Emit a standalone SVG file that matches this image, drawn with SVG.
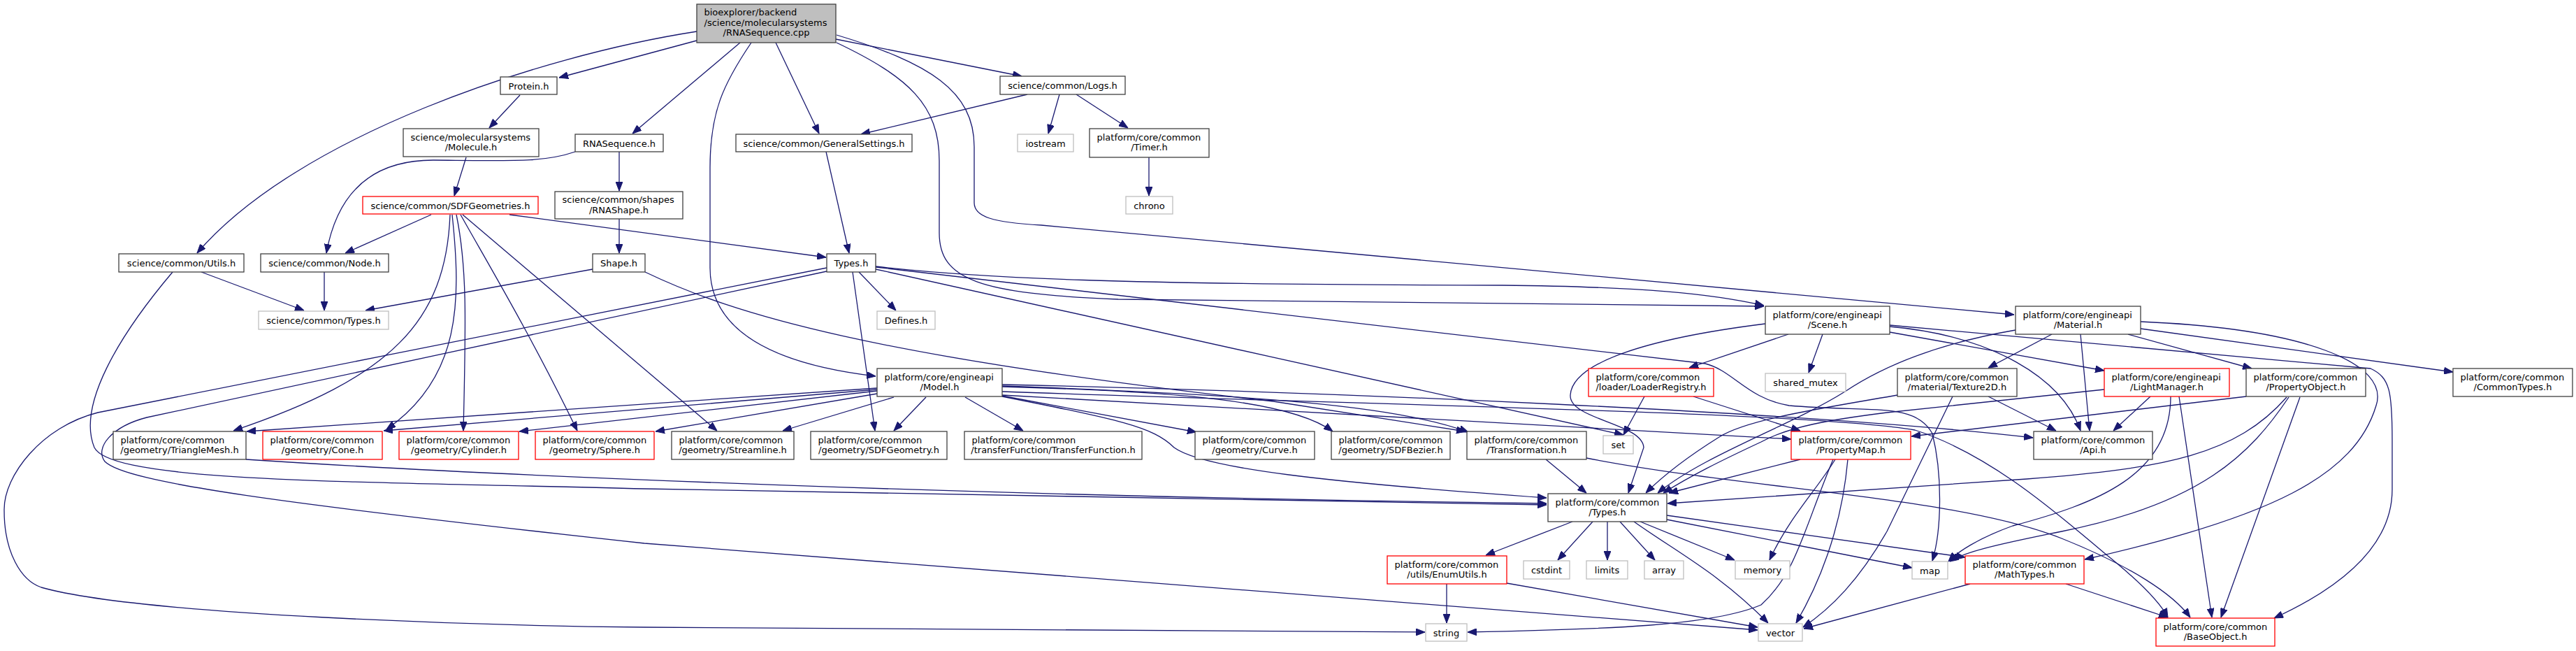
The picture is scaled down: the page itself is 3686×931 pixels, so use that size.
<svg xmlns="http://www.w3.org/2000/svg" width="3686" height="931" viewBox="0 0 3686 931">
<defs>
<marker id="ah" viewBox="0 0 13 10" refX="13" refY="5" markerWidth="13" markerHeight="10" markerUnits="userSpaceOnUse" orient="auto">
<path d="M0,0 L13,5 L0,10 z" fill="#191970" stroke="#191970" stroke-width="1"/>
</marker>
<style>
text{font-family:"DejaVu Sans","Liberation Sans",sans-serif;font-size:13px;fill:#000}
.m{text-anchor:middle}
rect{fill:#fff;stroke:#404040;stroke-width:1.3}
.r rect{stroke:#ff0000}
.g rect{stroke:#bfbfbf}
.root rect{fill:#bfbfbf}
#edges path{fill:none;stroke:#191970;stroke-width:1.3;marker-end:url(#ah)}
</style>
</defs>
<rect x="0" y="0" width="3686" height="931" style="fill:#fff;stroke:none"/>
<g id="edges">
<path d="M997,58 L800,111"/>
<path d="M997,45 C770,80 425,195 282,362"/>
<path d="M1059,61 L905,191"/>
<path d="M1075,61 C1035,120 1016,160 1016,240 L1016,383 C1016,470 1100,520 1253,538"/>
<path d="M1110,61 L1172,191"/>
<path d="M1196,56 L1462,109"/>
<path d="M1197,61 C1300,110 1344,150 1344,230 L1344,333 C1344,400 1400,420 1600,428 L2524,438"/>
<path d="M1197,50 C1330,90 1394,130 1394,210 L1394,290 C1394,310 1420,318 1490,322 L2882,450"/>
<path d="M744,136 L700,183"/>
<path d="M667,225 L650,280"/>
<path d="M886,217 L886,273"/>
<path d="M823,217 C780,232 740,230 620,229 C520,229 480,290 467,362"/>
<path d="M1470,135 L1232,192"/>
<path d="M1516,135 L1500,191"/>
<path d="M1540,135 L1614,183"/>
<path d="M1644,225 L1644,280"/>
<path d="M1182,217 L1215,362"/>
<path d="M886,313 L886,362"/>
<path d="M617,307 L494,362"/>
<path d="M729,307 L1182,368"/>
<path d="M644,307 C638,460 560,540 334,616"/>
<path d="M647,307 C660,430 660,540 553,614"/>
<path d="M653,307 C668,380 667,450 663,616"/>
<path d="M659,307 C700,380 760,480 826,616"/>
<path d="M662,307 L1026,616"/>
<path d="M288,389 L435,444"/>
<path d="M464,389 L464,444"/>
<path d="M848,385 L523,444"/>
<path d="M247,389 C170,480 110,580 135,640 C160,690 500,688 922,699 L2213,722"/>
<path d="M352,657 C700,680 1400,710 2213,720"/>
<path d="M1183,383 L140,590 C60,610 5,680 6,730 C6,790 30,830 59,840 C200,880 700,895 922,897 L2039,904"/>
<path d="M1183,388 L210,597 C160,610 135,640 150,660 C180,690 400,720 922,777 L2515,901"/>
<path d="M1229,389 L1282,444"/>
<path d="M1220,389 L1252,616"/>
<path d="M1253,381 C1400,398 1600,407 2150,408 C2350,410 2450,420 2524,437"/>
<path d="M1253,382 L2440,520 C2480,530 2500,570 2560,580 C2680,590 2740,575 2765,620 C2780,680 2778,760 2765,802"/>
<path d="M1253,385 L2323,622"/>
<path d="M2559,478 L2417,526"/>
<path d="M2608,478 L2588,533"/>
<path d="M2526,463 C2350,485 2250,520 2247,565 C2245,600 2350,605 2352,640 L2330,705"/>
<path d="M2704,475 L3011,530"/>
<path d="M2704,467 C2850,480 2950,540 2977,616"/>
<path d="M2704,465 L3392,527 C3420,540 3423,560 3423,630 L3423,700 C3423,780 3350,840 3254,884"/>
<path d="M2936,478 L2845,526"/>
<path d="M2977,478 L2990,616"/>
<path d="M3045,478 L3222,527"/>
<path d="M3063,470 L3510,532"/>
<path d="M3063,460 C3300,470 3420,520 3400,580 C3370,680 3250,740 2983,800"/>
<path d="M2884,472 C2780,490 2700,520 2640,560 C2560,610 2440,650 2372,705"/>
<path d="M3077,567 L3024,616"/>
<path d="M3106,567 C3106,680 3000,720 2880,752 C2830,770 2800,790 2788,803"/>
<path d="M3118,567 L3165,883"/>
<path d="M3011,557 L2700,590 C2620,600 2560,610 2520,632 C2460,660 2420,680 2380,705"/>
<path d="M2845,567 L2942,616"/>
<path d="M2794,567 L2700,760 C2660,830 2620,870 2580,897"/>
<path d="M2715,565 C2600,585 2500,600 2460,625 C2420,650 2380,680 2355,705"/>
<path d="M3214,567 L2735,624"/>
<path d="M3291,568 L3178,883"/>
<path d="M3275,568 C3220,650 3150,720 2950,760 C2850,780 2810,790 2790,803"/>
<path d="M3272,568 C3200,650 3100,670 2900,685 C2700,700 2500,712 2386,720"/>
<path d="M2576,657 L2388,705"/>
<path d="M2626,657 C2600,700 2560,740 2532,801"/>
<path d="M2623,657 C2580,760 2570,820 2520,865 C2450,895 2300,900 2100,904"/>
<path d="M2644,657 C2635,760 2600,840 2570,891"/>
<path d="M2353,567 L2323,622"/>
<path d="M2423,567 L2576,616"/>
<path d="M2212,657 L2270,705"/>
<path d="M2270,655 C2500,700 2800,710 2950,770 C3050,810 3110,850 3134,883"/>
<path d="M923,389 C1050,450 1250,510 1822,574 L2097,617"/>
<path d="M1255,555 L353,617"/>
<path d="M1255,557 L549,616"/>
<path d="M1255,559 L743,617"/>
<path d="M1255,563 L938,617"/>
<path d="M1279,568 L1120,616"/>
<path d="M1325,568 L1279,616"/>
<path d="M1381,568 L1464,616"/>
<path d="M1434,566 L1712,618"/>
<path d="M1434,567 C1600,600 1650,610 1680,640 C1720,670 1900,690 2213,712"/>
<path d="M1434,553 C1700,560 1850,575 1907,617"/>
<path d="M1434,552 C1800,565 2000,580 2101,618"/>
<path d="M1434,565 L2563,628"/>
<path d="M1434,550 C1900,560 2600,590 2909,626"/>
<path d="M1434,560 C2000,580 2600,590 2740,615 C2850,650 2950,740 3010,790 C3060,830 3090,860 3102,883"/>
<path d="M2250,746 L2126,794"/>
<path d="M2279,746 L2229,801"/>
<path d="M2300,746 L2300,801"/>
<path d="M2318,746 L2368,801"/>
<path d="M2347,746 L2482,801"/>
<path d="M2338,746 C2400,790 2460,820 2530,891"/>
<path d="M2385,743 L2736,812"/>
<path d="M2385,737 L2812,797"/>
<path d="M2070,835 L2070,891"/>
<path d="M2156,834 L2515,897"/>
<path d="M2819,835 L2581,899"/>
<path d="M2956,835 L3102,883"/>
</g>
<g id="n_root" class="root"><rect x="997" y="6" width="199" height="55"/><text x="1007.5" y="22">bioexplorer/backend</text><text x="1007.5" y="37">/science/molecularsystems</text><text class="m" x="1096.5" y="51">/RNASequence.cpp</text></g>
<g id="n_protein"><rect x="716" y="110" width="81" height="25"/><text class="m" x="756.5" y="127.5">Protein.h</text></g>
<g id="n_logs"><rect x="1431" y="109" width="179" height="26"/><text class="m" x="1520.5" y="127">science/common/Logs.h</text></g>
<g id="n_molecule"><rect x="577" y="184" width="194" height="40"/><text x="587.5" y="200.5">science/molecularsystems</text><text class="m" x="674" y="215">/Molecule.h</text></g>
<g id="n_rnaseqh"><rect x="823" y="192" width="126" height="25"/><text class="m" x="886" y="209.5">RNASequence.h</text></g>
<g id="n_gensettings"><rect x="1053" y="192" width="252" height="25"/><text class="m" x="1179" y="209.5">science/common/GeneralSettings.h</text></g>
<g id="n_iostream" class="g"><rect x="1456" y="192" width="80" height="25"/><text class="m" x="1496" y="209.5">iostream</text></g>
<g id="n_timer"><rect x="1559" y="184" width="171" height="41"/><text x="1569.5" y="200.5">platform/core/common</text><text class="m" x="1644.5" y="215">/Timer.h</text></g>
<g id="n_sdfgeometries" class="r"><rect x="519" y="281" width="251" height="25"/><text class="m" x="644.5" y="298.5">science/common/SDFGeometries.h</text></g>
<g id="n_rnashape"><rect x="794" y="274" width="183" height="39"/><text x="804.5" y="290">science/common/shapes</text><text class="m" x="885.5" y="304.5">/RNAShape.h</text></g>
<g id="n_chrono" class="g"><rect x="1611" y="281" width="67" height="25"/><text class="m" x="1644.5" y="298.5">chrono</text></g>
<g id="n_utils"><rect x="170" y="363" width="179" height="26"/><text class="m" x="259.5" y="381">science/common/Utils.h</text></g>
<g id="n_node"><rect x="373" y="363" width="183" height="26"/><text class="m" x="464.5" y="381">science/common/Node.h</text></g>
<g id="n_shape"><rect x="848" y="363" width="75" height="26"/><text class="m" x="885.5" y="381">Shape.h</text></g>
<g id="n_types"><rect x="1183" y="363" width="70" height="26"/><text class="m" x="1218" y="381">Types.h</text></g>
<g id="n_scitypes" class="g"><rect x="370" y="445" width="186" height="26"/><text class="m" x="463" y="463">science/common/Types.h</text></g>
<g id="n_defines" class="g"><rect x="1255" y="445" width="83" height="26"/><text class="m" x="1296.5" y="463">Defines.h</text></g>
<g id="n_scene"><rect x="2526" y="438" width="178" height="40"/><text x="2536.5" y="454.5">platform/core/engineapi</text><text class="m" x="2615" y="469">/Scene.h</text></g>
<g id="n_material"><rect x="2884" y="438" width="179" height="40"/><text x="2894.5" y="454.5">platform/core/engineapi</text><text class="m" x="2973.5" y="469">/Material.h</text></g>
<g id="n_model"><rect x="1255" y="527" width="179" height="40"/><text x="1265.5" y="543.5">platform/core/engineapi</text><text class="m" x="1344.5" y="558">/Model.h</text></g>
<g id="n_loaderregistry" class="r"><rect x="2273" y="527" width="179" height="40"/><text x="2283.5" y="543.5">platform/core/common</text><text class="m" x="2362.5" y="558">/loader/LoaderRegistry.h</text></g>
<g id="n_sharedmutex" class="g"><rect x="2526" y="534" width="115" height="26"/><text class="m" x="2583.5" y="552">shared_mutex</text></g>
<g id="n_texture2d"><rect x="2715" y="527" width="171" height="40"/><text x="2725.5" y="543.5">platform/core/common</text><text class="m" x="2800.5" y="558">/material/Texture2D.h</text></g>
<g id="n_lightmanager" class="r"><rect x="3011" y="527" width="179" height="40"/><text x="3021.5" y="543.5">platform/core/engineapi</text><text class="m" x="3100.5" y="558">/LightManager.h</text></g>
<g id="n_propertyobject"><rect x="3214" y="527" width="171" height="40"/><text x="3224.5" y="543.5">platform/core/common</text><text class="m" x="3299.5" y="558">/PropertyObject.h</text></g>
<g id="n_commontypes"><rect x="3510" y="527" width="171" height="40"/><text x="3520.5" y="543.5">platform/core/common</text><text class="m" x="3595.5" y="558">/CommonTypes.h</text></g>
<g id="n_trianglemesh"><rect x="162" y="617" width="190" height="40"/><text x="172.5" y="633.5">platform/core/common</text><text class="m" x="257" y="648">/geometry/TriangleMesh.h</text></g>
<g id="n_cone" class="r"><rect x="376" y="617" width="171" height="40"/><text x="386.5" y="633.5">platform/core/common</text><text class="m" x="461.5" y="648">/geometry/Cone.h</text></g>
<g id="n_cylinder" class="r"><rect x="571" y="617" width="171" height="40"/><text x="581.5" y="633.5">platform/core/common</text><text class="m" x="656.5" y="648">/geometry/Cylinder.h</text></g>
<g id="n_sphere" class="r"><rect x="766" y="617" width="170" height="40"/><text x="776.5" y="633.5">platform/core/common</text><text class="m" x="851" y="648">/geometry/Sphere.h</text></g>
<g id="n_streamline"><rect x="961" y="617" width="175" height="40"/><text x="971.5" y="633.5">platform/core/common</text><text class="m" x="1048.5" y="648">/geometry/Streamline.h</text></g>
<g id="n_sdfgeometry"><rect x="1160" y="617" width="195" height="40"/><text x="1170.5" y="633.5">platform/core/common</text><text class="m" x="1257.5" y="648">/geometry/SDFGeometry.h</text></g>
<g id="n_transferfunction"><rect x="1380" y="617" width="254" height="40"/><text x="1390.5" y="633.5">platform/core/common</text><text class="m" x="1507" y="648">/transferFunction/TransferFunction.h</text></g>
<g id="n_curve"><rect x="1710" y="617" width="171" height="40"/><text x="1720.5" y="633.5">platform/core/common</text><text class="m" x="1795.5" y="648">/geometry/Curve.h</text></g>
<g id="n_sdfbezier"><rect x="1905" y="617" width="170" height="40"/><text x="1915.5" y="633.5">platform/core/common</text><text class="m" x="1990" y="648">/geometry/SDFBezier.h</text></g>
<g id="n_transformation"><rect x="2099" y="617" width="171" height="40"/><text x="2109.5" y="633.5">platform/core/common</text><text class="m" x="2184.5" y="648">/Transformation.h</text></g>
<g id="n_set" class="g"><rect x="2294" y="623" width="43" height="26"/><text class="m" x="2315.5" y="641">set</text></g>
<g id="n_propertymap" class="r"><rect x="2563" y="617" width="171" height="40"/><text x="2573.5" y="633.5">platform/core/common</text><text class="m" x="2648.5" y="648">/PropertyMap.h</text></g>
<g id="n_api"><rect x="2910" y="617" width="170" height="40"/><text x="2920.5" y="633.5">platform/core/common</text><text class="m" x="2995" y="648">/Api.h</text></g>
<g id="n_ptypes"><rect x="2215" y="706" width="170" height="40"/><text x="2225.5" y="722.5">platform/core/common</text><text class="m" x="2300" y="737">/Types.h</text></g>
<g id="n_enumutils" class="r"><rect x="1985" y="795" width="171" height="40"/><text x="1995.5" y="811.5">platform/core/common</text><text class="m" x="2070.5" y="826">/utils/EnumUtils.h</text></g>
<g id="n_cstdint" class="g"><rect x="2180" y="802" width="66" height="26"/><text class="m" x="2213" y="820">cstdint</text></g>
<g id="n_limits" class="g"><rect x="2270" y="802" width="59" height="26"/><text class="m" x="2299.5" y="820">limits</text></g>
<g id="n_array" class="g"><rect x="2353" y="802" width="56" height="26"/><text class="m" x="2381" y="820">array</text></g>
<g id="n_memory" class="g"><rect x="2483" y="802" width="78" height="26"/><text class="m" x="2522" y="820">memory</text></g>
<g id="n_map" class="g"><rect x="2736" y="803" width="51" height="25"/><text class="m" x="2761.5" y="820.5">map</text></g>
<g id="n_mathtypes" class="r"><rect x="2812" y="795" width="170" height="40"/><text x="2822.5" y="811.5">platform/core/common</text><text class="m" x="2897" y="826">/MathTypes.h</text></g>
<g id="n_string" class="g"><rect x="2040" y="892" width="59" height="25"/><text class="m" x="2069.5" y="909.5">string</text></g>
<g id="n_vector" class="g"><rect x="2516" y="892" width="63" height="25"/><text class="m" x="2547.5" y="909.5">vector</text></g>
<g id="n_baseobject" class="r"><rect x="3085" y="884" width="170" height="40"/><text x="3095.5" y="900.5">platform/core/common</text><text class="m" x="3170" y="915">/BaseObject.h</text></g>
</svg>
